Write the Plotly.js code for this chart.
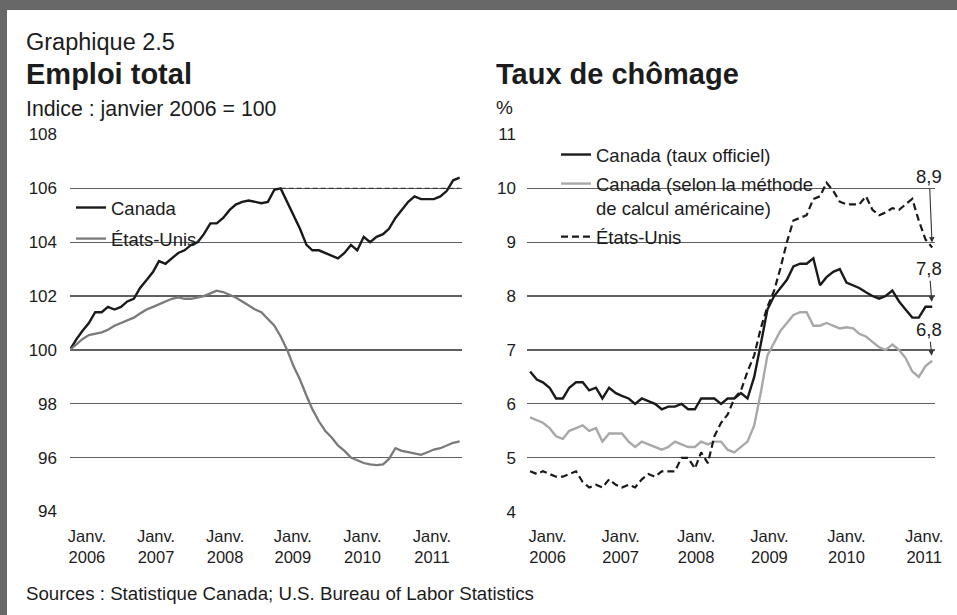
<!DOCTYPE html>
<html>
<head>
<meta charset="utf-8">
<script src="https://cdn.plot.ly/plotly-3.0.1.min.js"></script>
<style>
  html, body { margin: 0; padding: 0; background: #ffffff; }
  #chart { width: 957px; height: 615px; }
</style>
</head>
<body>
<div id="chart"></div>
<script>
// ---- Data (monthly, January 2006 to February 2011) ----
const startYear = 2006;
const yearLabels = ["2006", "2007", "2008", "2009", "2010", "2011"];

// Emploi total, indice janvier 2006 = 100
const emploiCanada = [
  100.0, 100.4, 100.7, 101.0, 101.4, 101.4, 101.6, 101.5, 101.6, 101.8, 101.9, 102.3,
  102.6, 102.9, 103.3, 103.2, 103.4, 103.6, 103.7, 103.9, 104.0, 104.3, 104.7, 104.7,
  104.9, 105.2, 105.4, 105.5, 105.55, 105.5, 105.45, 105.5, 105.95, 106.0, 105.5, 105.0,
  104.5, 103.9, 103.7, 103.7, 103.6, 103.5, 103.4, 103.6, 103.9, 103.7, 104.2, 104.0,
  104.2, 104.3, 104.5, 104.9, 105.2, 105.5, 105.7, 105.6, 105.6, 105.6, 105.7, 105.9,
  106.3, 106.4
];
const emploiEU = [
  100.0, 100.2, 100.4, 100.55, 100.6, 100.65, 100.75, 100.9, 101.0, 101.1, 101.2, 101.35,
  101.5, 101.6, 101.7, 101.8, 101.9, 101.95, 101.9, 101.9, 101.95, 102.0, 102.1, 102.2,
  102.15, 102.05, 101.95, 101.8, 101.65, 101.5, 101.4, 101.15, 100.9, 100.5, 100.0, 99.4,
  98.9, 98.3, 97.8, 97.35, 97.0, 96.75, 96.45, 96.25, 96.0, 95.9, 95.8, 95.75,
  95.72, 95.75, 95.95, 96.35, 96.25, 96.2, 96.15, 96.1, 96.2, 96.3, 96.35, 96.45,
  96.55, 96.6
];

// Taux de chômage, %
const chomageCanada = [
  6.6, 6.45, 6.4, 6.3, 6.1, 6.1, 6.3, 6.4, 6.4, 6.25, 6.3, 6.1,
  6.3, 6.2, 6.15, 6.1, 6.0, 6.1, 6.05, 6.0, 5.9, 5.95, 5.95, 6.0,
  5.9, 5.9, 6.1, 6.1, 6.1, 6.0, 6.1, 6.1, 6.2, 6.1, 6.5, 7.1,
  7.75, 8.0, 8.15, 8.3, 8.55, 8.6, 8.6, 8.7, 8.2, 8.35, 8.45, 8.5,
  8.25, 8.2, 8.15, 8.07, 8.0, 7.95, 8.0, 8.1, 7.9, 7.75, 7.6, 7.6,
  7.8, 7.8
];
const chomageCanadaMethodeEU = [
  5.75, 5.7, 5.65, 5.55, 5.4, 5.35, 5.5, 5.55, 5.6, 5.5, 5.55, 5.3,
  5.45, 5.45, 5.45, 5.3, 5.2, 5.3, 5.25, 5.2, 5.15, 5.2, 5.3, 5.25,
  5.2, 5.2, 5.3, 5.25, 5.3, 5.3, 5.15, 5.1, 5.2, 5.3, 5.6, 6.2,
  6.9, 7.15, 7.35, 7.5, 7.65, 7.7, 7.7, 7.45, 7.45, 7.5, 7.45, 7.4,
  7.42, 7.4, 7.3, 7.25, 7.15, 7.05, 7.0, 7.1, 7.0, 6.85, 6.6, 6.5,
  6.7, 6.8
];
const chomageEU = [
  4.75, 4.7, 4.75, 4.7, 4.65, 4.65, 4.7, 4.75, 4.55, 4.45, 4.5, 4.45,
  4.6, 4.5, 4.45, 4.5, 4.45, 4.6, 4.7, 4.65, 4.75, 4.75, 4.75, 5.0,
  5.0, 4.8, 5.1, 4.9, 5.4, 5.65, 5.8, 6.1, 6.25, 6.6, 6.9, 7.4,
  7.8, 8.1, 8.5, 9.0, 9.4, 9.45, 9.5, 9.8, 9.85, 10.1, 9.95, 9.75,
  9.7, 9.7, 9.7, 9.85, 9.6, 9.5, 9.55, 9.63, 9.6, 9.7, 9.8, 9.4,
  9.05, 8.9
];

const leftTitle = "Emploi total";
const leftUnit = "Indice : janvier 2006 = 100";
const rightTitle = "Taux de chômage";
const rightUnit = "%";
const chartNumber = "Graphique 2.5";
const sourceText = "Sources : Statistique Canada; U.S. Bureau of Labor Statistics";
const legendNames = {
  emploiCanada: "Canada",
  emploiEU: "États-Unis",
  chomageCanada: "Canada (taux officiel)",
  chomageCanadaMethodeEU: "Canada (selon la méthode<br>de calcul américaine)",
  chomageEU: "États-Unis"
};

// ---- helpers ----
const W = 957, H = 615;
const px = v => v / W;
const py = v => 1 - v / H;
function monthDate(m) {
  const whole = Math.floor(m);
  const frac = m - whole;
  const y = startYear + Math.floor(whole / 12);
  const mo = ((whole % 12) + 12) % 12;
  const d0 = new Date(Date.UTC(y, mo, 1));
  const d1 = new Date(Date.UTC(y, mo + 1, 1));
  const t = new Date(d0.getTime() + frac * (d1 - d0));
  return t.toISOString().slice(0, 19).replace("T", " ");
}
const months = emploiCanada.map((_, i) => monthDate(i));
const last = months.length - 1;

// dashed reference line at Canada's pre-recession peak
const peakVal = Math.max(...emploiCanada.slice(0, 40));
const peakIdx = emploiCanada.indexOf(peakVal);

const FONT = "Liberation Sans, Arial, Helvetica, sans-serif";
const INK = "#1c1c1c";

const traces = [
  { x: months, y: emploiCanada, name: legendNames.emploiCanada, type: "scatter", mode: "lines",
    line: { color: "#1a1a1a", width: 2.4 }, xaxis: "x", yaxis: "y", legend: "legend", legendgroup: "a" },
  { x: months, y: emploiEU, name: legendNames.emploiEU, type: "scatter", mode: "lines",
    line: { color: "#7a7a7a", width: 2.3 }, xaxis: "x", yaxis: "y", legend: "legend", legendgroup: "b" },
  { x: [months[peakIdx], months[last]], y: [peakVal, peakVal], type: "scatter", mode: "lines",
    line: { color: "#333", width: 1.2, dash: "5px,3px" }, xaxis: "x", yaxis: "y", showlegend: false, hoverinfo: "skip" },

  { x: months, y: chomageCanada, name: legendNames.chomageCanada, type: "scatter", mode: "lines",
    line: { color: "#1a1a1a", width: 2.4 }, xaxis: "x2", yaxis: "y2", legend: "legend2", legendgroup: "c" },
  { x: months, y: chomageCanadaMethodeEU, name: legendNames.chomageCanadaMethodeEU, type: "scatter", mode: "lines",
    line: { color: "#a8a8a8", width: 2.4 }, xaxis: "x2", yaxis: "y2", legend: "legend2", legendgroup: "d" },
  { x: months, y: chomageEU, name: legendNames.chomageEU, type: "scatter", mode: "lines",
    line: { color: "#1a1a1a", width: 2.2, dash: "7px,4px" }, xaxis: "x2", yaxis: "y2", legend: "legend2", legendgroup: "e" }
];

const leftTickPos = [2.7, 13.5, 24.3, 34.9, 45.8, 56.7];
const rightTickPos = [2.7, 13.8, 25.2, 36.3, 48.0, 59.8];
const tickText = yearLabels.map(y => "Janv.<br>" + y);

const gridStyle = { showgrid: true, gridcolor: "#5f5f5f", gridwidth: 1.2, zeroline: false, showline: false, ticks: "" };

const layout = {
  width: W, height: H,
  margin: { l: 0, r: 0, t: 0, b: 0 },
  paper_bgcolor: "#ffffff", plot_bgcolor: "rgba(0,0,0,0)",
  font: { family: FONT, color: INK, size: 17 },
  showlegend: true,
  xaxis: { domain: [px(70), px(462)], anchor: "y", type: "date",
    range: [monthDate(0), monthDate(61.4)], showgrid: false, zeroline: false, showline: false, ticks: "",
    tickmode: "array", tickvals: leftTickPos.map(monthDate), ticktext: tickText,
    tickfont: { size: 16.5, family: FONT, color: INK }, ticklabelstandoff: 12 },
  yaxis: Object.assign({ domain: [py(512), py(134)], anchor: "x", range: [93.98, 108.02],
    tickvals: [94, 96, 98, 100, 102, 104, 106, 108],
    tickfont: { size: 17, family: FONT, color: INK }, ticklabelstandoff: 12 }, gridStyle),
  xaxis2: { domain: [px(527), px(935)], anchor: "y2", type: "date",
    range: [monthDate(-0.46), monthDate(61.46)], showgrid: false, zeroline: false, showline: false, ticks: "",
    tickmode: "array", tickvals: rightTickPos.map(monthDate), ticktext: tickText,
    tickfont: { size: 16.5, family: FONT, color: INK }, ticklabelstandoff: 12 },
  yaxis2: Object.assign({ domain: [py(512), py(134)], anchor: "x2", range: [3.995, 11.005],
    tickvals: [4, 5, 6, 7, 8, 9, 10, 11],
    tickfont: { size: 17, family: FONT, color: INK }, ticklabelstandoff: 10 }, gridStyle),
  legend: { x: px(71), y: py(189), xanchor: "left", yanchor: "top", bgcolor: "rgba(0,0,0,0)",
    borderwidth: 0, font: { size: 18.5, family: FONT, color: INK }, tracegroupgap: 4, itemwidth: 30 },
  legend2: { x: px(556), y: py(136), xanchor: "left", yanchor: "top", bgcolor: "rgba(0,0,0,0)",
    borderwidth: 0, font: { size: 18.5, family: FONT, color: INK }, tracegroupgap: 2, itemwidth: 30, valign: "top" },
  shapes: [
    { type: "rect", xref: "paper", yref: "paper", x0: 0, x1: 1, y0: py(10), y1: 1,
      fillcolor: "#686868", line: { width: 0 } },
    { type: "rect", xref: "paper", yref: "paper", x0: 0, x1: px(7), y0: 0, y1: 1,
      fillcolor: "#686868", line: { width: 0 } }
  ],
  annotations: [
    { text: chartNumber, xref: "paper", yref: "paper", x: px(24), y: py(42), xanchor: "left", yanchor: "middle",
      showarrow: false, font: { size: 23.5, family: FONT, color: INK } },
    { text: "<b>" + leftTitle + "</b>", xref: "paper", yref: "paper", x: px(24), y: py(74), xanchor: "left", yanchor: "middle",
      showarrow: false, font: { size: 29, family: FONT, color: INK } },
    { text: leftUnit, xref: "paper", yref: "paper", x: px(24), y: py(109), xanchor: "left", yanchor: "middle",
      showarrow: false, font: { size: 21.3, family: FONT, color: INK } },
    { text: "<b>" + rightTitle + "</b>", xref: "paper", yref: "paper", x: px(494), y: py(74), xanchor: "left", yanchor: "middle",
      showarrow: false, font: { size: 29, family: FONT, color: INK } },
    { text: rightUnit, xref: "paper", yref: "paper", x: px(494), y: py(108), xanchor: "left", yanchor: "middle",
      showarrow: false, font: { size: 19, family: FONT, color: INK } },
    { text: sourceText, xref: "paper", yref: "paper", x: px(24), y: py(593), xanchor: "left", yanchor: "middle",
      showarrow: false, font: { size: 18.7, family: FONT, color: INK } },
    // end-point value callouts
    { text: String(chomageEU[last]).replace(".", ","), xref: "x2", yref: "y2", x: months[last], y: chomageEU[last],
      showarrow: true, arrowhead: 2, arrowsize: 1, arrowwidth: 1.1, arrowcolor: "#333", ax: -3, ay: -71, standoff: 5,
      font: { size: 18.5, family: FONT, color: INK } },
    { text: String(chomageCanada[last]).replace(".", ","), xref: "x2", yref: "y2", x: months[last], y: chomageCanada[last],
      showarrow: true, arrowhead: 2, arrowsize: 1, arrowwidth: 1.1, arrowcolor: "#333", ax: -3, ay: -38, standoff: 5,
      font: { size: 18.5, family: FONT, color: INK } },
    { text: String(chomageCanadaMethodeEU[last]).replace(".", ","), xref: "x2", yref: "y2", x: months[last], y: chomageCanadaMethodeEU[last],
      showarrow: true, arrowhead: 2, arrowsize: 1, arrowwidth: 1.1, arrowcolor: "#333", ax: -3, ay: -31, standoff: 5,
      font: { size: 18.5, family: FONT, color: INK } }
  ]
};

Plotly.newPlot("chart", traces, layout, { displayModeBar: false, staticPlot: true });
</script>
</body>
</html>
